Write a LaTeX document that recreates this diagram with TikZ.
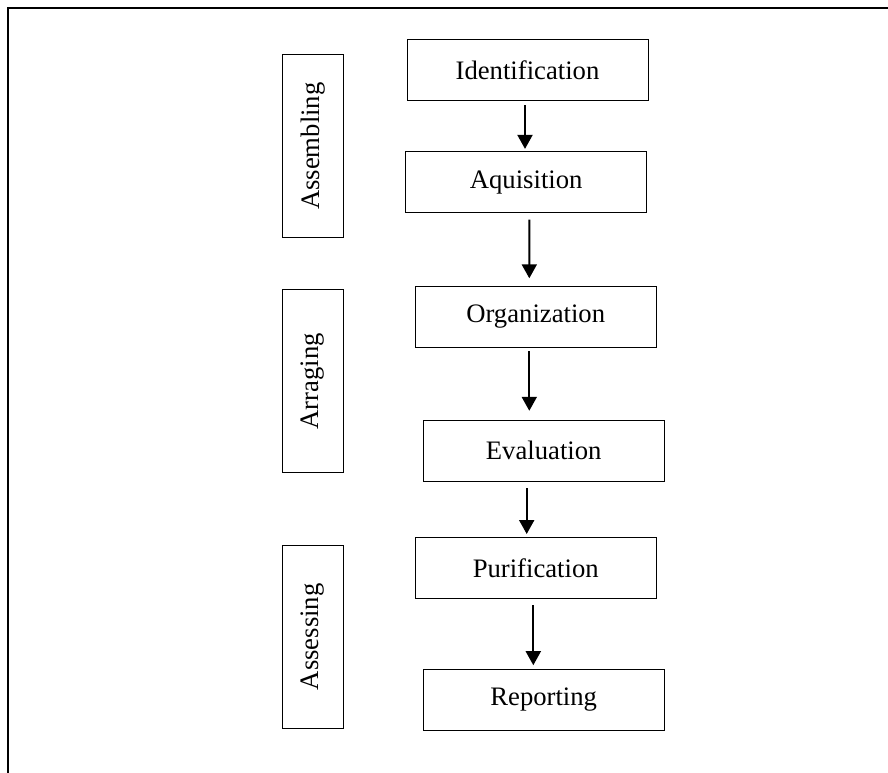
\documentclass[tikz,border=0pt]{standalone}
\usepackage{fontspec}
\setmainfont{Liberation Serif}
\usetikzlibrary{calc,arrows.meta}
\begin{document}
\begin{tikzpicture}[x=0.75pt,y=-0.75pt,
  stepbox/.style={draw,line width=0.75pt,inner sep=0pt,minimum width=180.75pt,minimum height=45.75pt,font=\fontsize{20}{24}\selectfont},
  phasebox/.style={draw,line width=0.75pt,inner sep=0pt,rotate=90,minimum width=137.5pt,minimum height=45.3pt,font=\fontsize{20}{24}\selectfont},
  arr/.style={line width=1.5pt,-{Triangle[width=11.25pt,length=10.5pt]}}]
\useasboundingbox (0,0) rectangle (888,773);
\draw[line width=1.2pt] (8,773) -- (8,8) -- (888,8);
% step boxes
\node[stepbox] (id)  at (527.5,70.2)  {Identification};
\node[stepbox] (aq)  at (526.2,182.3) {Aquisition};
\node[stepbox] (org) at (535.7,316.7) {Organization};
\node[stepbox] (ev)  at (543.7,450.8) {Evaluation};
\node[stepbox] (pur) at (535.7,568.3) {Purification};
\node[stepbox] (rep) at (543.7,699.5) {Reporting};
% phase boxes
\node[phasebox] (asm) at (313,146.2) {Assembling};
\node[phasebox] (arg) at (313,381.2) {Arraging};
\node[phasebox] (ass) at (313,636.7) {Assessing};
% arrows
\draw[arr] ($(id.south)+(-2.5,4)$) -- ($(aq.north)+(-1.2,-2.4)$);
\draw[arr] ($(aq.south)+(3.1,6.3)$) -- ($(org.north)+(-6.4,-7.4)$);
\draw[arr] ($(org.south)+(-6.4,3.3)$) -- ($(ev.north)+(-14.4,-9)$);
\draw[arr] ($(ev.south)+(-17,6.6)$) -- ($(pur.north)+(-9,-3.3)$);
\draw[arr] ($(pur.south)+(-2.4,5.7)$) -- ($(rep.north)+(-10.4,-3.3)$);
\end{tikzpicture}
\end{document}
